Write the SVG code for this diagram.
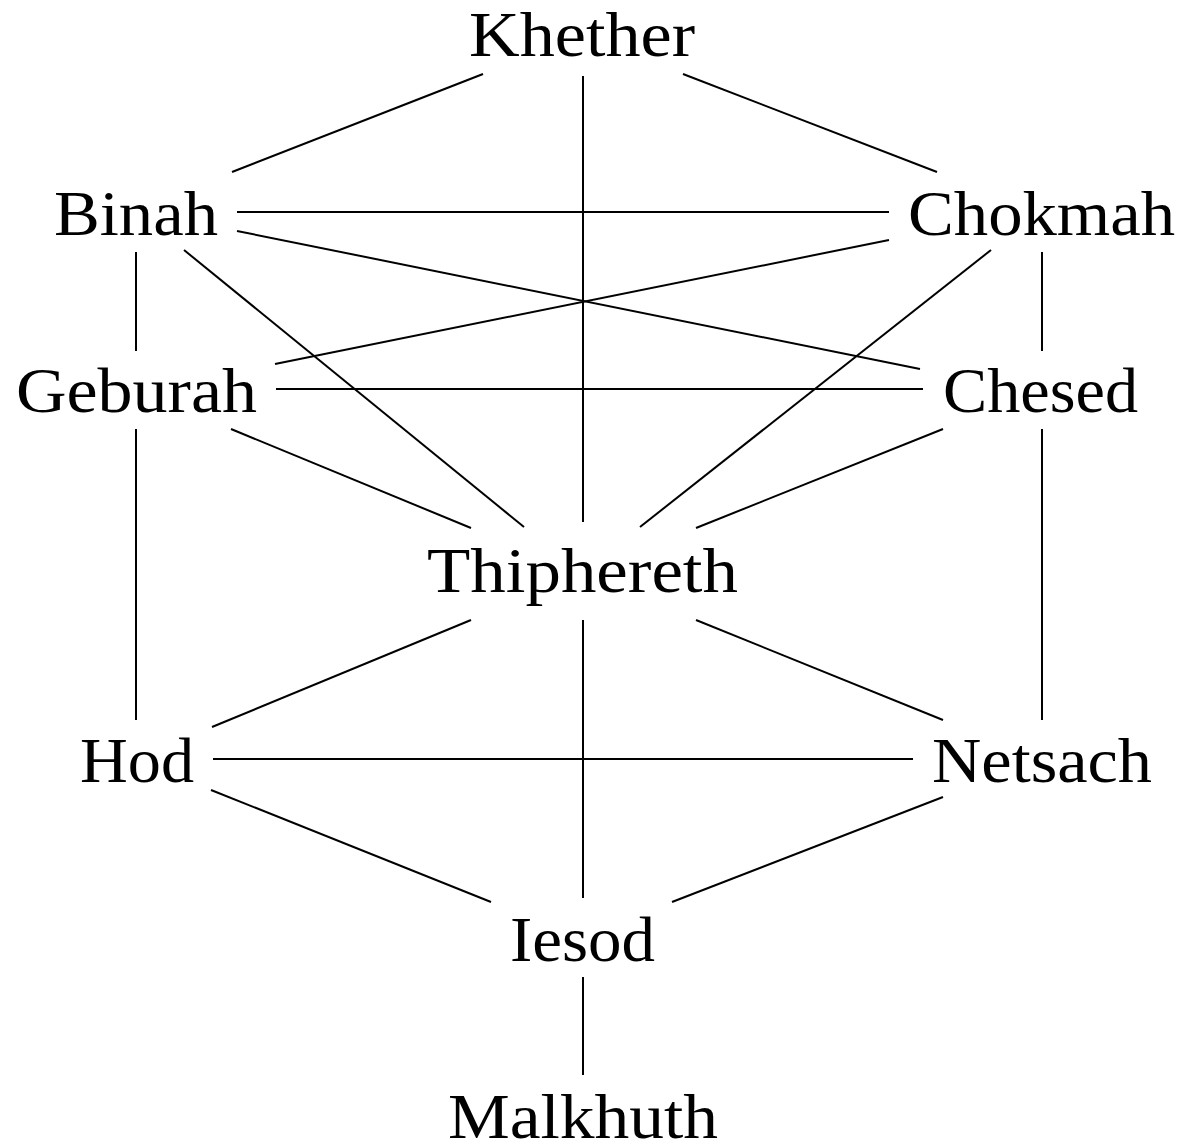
<svg xmlns="http://www.w3.org/2000/svg" width="1184" height="1146" viewBox="0 0 1184 1146">
<style>
.n text{font-family:"Liberation Serif","DejaVu Serif",serif;font-size:64px;fill:#000;}
#edges line{stroke:#000;stroke-width:2;}
</style>
<rect width="1184" height="1146" fill="#fff"/>
<g id="edges">
<line x1="483" y1="74" x2="232" y2="172"/>
<line x1="683" y1="74" x2="937" y2="172"/>
<line x1="583" y1="76" x2="583" y2="522"/>
<line x1="237" y1="212" x2="889" y2="212"/>
<line x1="237" y1="231" x2="920" y2="369"/>
<line x1="889" y1="240" x2="275" y2="364"/>
<line x1="184" y1="250" x2="524" y2="527"/>
<line x1="991" y1="250" x2="640" y2="527"/>
<line x1="136" y1="252" x2="136" y2="351"/>
<line x1="1042" y1="252" x2="1042" y2="351"/>
<line x1="276" y1="389" x2="923" y2="389"/>
<line x1="136" y1="429" x2="136" y2="720"/>
<line x1="1042" y1="429" x2="1042" y2="720"/>
<line x1="231" y1="429" x2="471" y2="528"/>
<line x1="943" y1="429" x2="696" y2="528"/>
<line x1="471" y1="620" x2="212" y2="727"/>
<line x1="696" y1="620" x2="943" y2="720"/>
<line x1="583" y1="620" x2="583" y2="898"/>
<line x1="213" y1="759" x2="913" y2="759"/>
<line x1="211" y1="790" x2="491" y2="902"/>
<line x1="943" y1="797" x2="672" y2="902"/>
<line x1="583" y1="977" x2="583" y2="1075"/>
</g>
<g id="khether" class="n"><text x="469" y="56" textLength="226" lengthAdjust="spacingAndGlyphs">Khether</text></g>
<g id="binah" class="n"><text x="54" y="235" textLength="164" lengthAdjust="spacingAndGlyphs">Binah</text></g>
<g id="chokmah" class="n"><text x="908" y="235" textLength="267" lengthAdjust="spacingAndGlyphs">Chokmah</text></g>
<g id="geburah" class="n"><text x="16" y="412" textLength="241" lengthAdjust="spacingAndGlyphs">Geburah</text></g>
<g id="chesed" class="n"><text x="943" y="412" textLength="195" lengthAdjust="spacingAndGlyphs">Chesed</text></g>
<g id="thiphereth" class="n"><text x="427" y="592" textLength="311" lengthAdjust="spacingAndGlyphs">Thiphereth</text></g>
<g id="hod" class="n"><text x="80" y="782" textLength="114" lengthAdjust="spacingAndGlyphs">Hod</text></g>
<g id="netsach" class="n"><text x="932" y="782" textLength="220" lengthAdjust="spacingAndGlyphs">Netsach</text></g>
<g id="iesod" class="n"><text x="510" y="961" textLength="145" lengthAdjust="spacingAndGlyphs">Iesod</text></g>
<g id="malkhuth" class="n"><text x="448" y="1138" textLength="270" lengthAdjust="spacingAndGlyphs">Malkhuth</text></g>
</svg>
